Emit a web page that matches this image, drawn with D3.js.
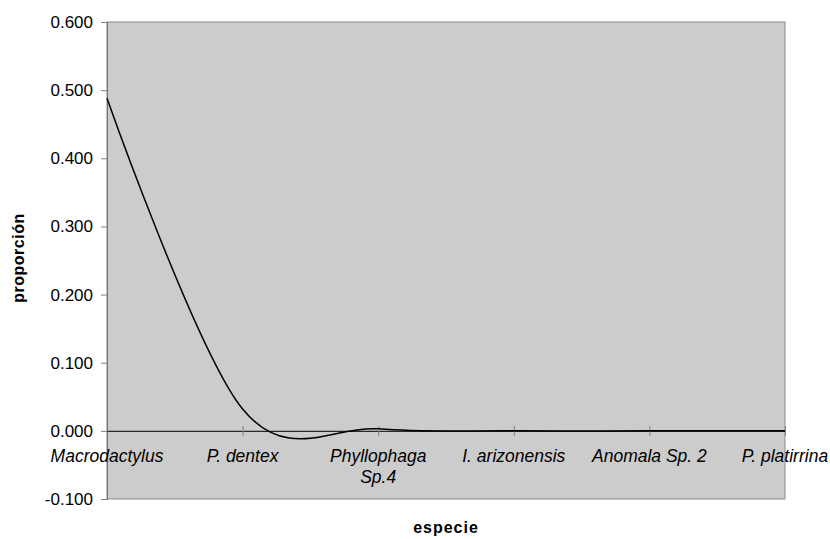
<!DOCTYPE html>
<html>
<head>
<meta charset="utf-8">
<script src="https://cdn.jsdelivr.net/npm/d3@7/dist/d3.min.js"></script>
<style>
  html, body { margin: 0; padding: 0; background: #ffffff; }
  svg { display: block; }
  text { font-family: "Liberation Sans", Arial, sans-serif; fill: #000; }
</style>
</head>
<body>
<svg id="chart" width="830" height="539"></svg>
<script>
const categories = ["Macrodactylus", "P. dentex", "Phyllophaga Sp.4", "I. arizonensis", "Anomala Sp. 2", "P. platirrina"];
const categoryLines = [["Macrodactylus"], ["P. dentex"], ["Phyllophaga", "Sp.4"], ["I. arizonensis"], ["Anomala Sp. 2"], ["P. platirrina"]];
const values = [0.488, 0.032, 0.003, 0.000, 0.000, 0.000];
const yTicks = [-0.1, 0.0, 0.1, 0.2, 0.3, 0.4, 0.5, 0.6];

const svg = d3.select("#chart");
const plot = { left: 107, right: 785, top: 22, bottom: 499 };

const x = d3.scalePoint().domain(categories).range([plot.left, plot.right]);
const y = d3.scaleLinear().domain([-0.1, 0.6]).range([plot.bottom, plot.top]);

// plot area
svg.append("rect")
  .attr("x", plot.left).attr("y", plot.top)
  .attr("width", plot.right - plot.left).attr("height", plot.bottom - plot.top)
  .attr("fill", "#cccccc").attr("stroke", "#8c8c8c").attr("stroke-width", 1);

// y axis
const fmt = d3.format(".3f");
const yAxis = d3.axisLeft(y).tickValues(yTicks)
  .tickFormat(d => fmt(d).replace("\u2212", "-"))
  .tickSize(6).tickPadding(8);
const gy = svg.append("g").attr("transform", `translate(${plot.left},0)`).call(yAxis);
gy.select(".domain").attr("stroke", "#707070");
gy.selectAll(".tick line").attr("stroke", "#808080");
gy.selectAll(".tick text").attr("font-size", "17px").attr("font-family", "'Liberation Sans', Arial, sans-serif").attr("fill", "#000");

// x axis at y = 0
const xAxis = d3.axisBottom(x).tickSize(0).tickFormat("");
const gx = svg.append("g").attr("transform", `translate(0,${y(0)})`).call(xAxis);
gx.select(".domain").attr("stroke", "#2a2a2a").attr("stroke-width", 1.2);
gx.selectAll(".tick").filter((d, i) => i > 0).append("line")
  .attr("y1", -5).attr("y2", 5).attr("stroke", "#808080");

// x labels
const lbl = svg.append("g");
categories.forEach((c, i) => {
  const t = lbl.append("text")
    .attr("x", x(c)).attr("y", 462)
    .attr("text-anchor", "middle")
    .attr("font-size", "17.5px").attr("font-style", "italic");
  categoryLines[i].forEach((ln, j) => {
    t.append("tspan").attr("x", x(c)).attr("dy", j === 0 ? 0 : 21).text(ln);
  });
});

// line
const line = d3.line()
  .x((d, i) => x(categories[i]))
  .y(d => y(d))
  .curve(d3.curveCardinal.tension(0));
svg.append("path").datum(values)
  .attr("d", line)
  .attr("fill", "none").attr("stroke", "#000").attr("stroke-width", 1.5);

// axis titles
svg.append("text")
  .attr("transform", "translate(24,258) rotate(-90)")
  .attr("text-anchor", "middle")
  .attr("font-size", "16px").attr("font-weight", "bold").attr("letter-spacing", "0.5px")
  .text("proporción");
svg.append("text")
  .attr("x", 446).attr("y", 533)
  .attr("text-anchor", "middle")
  .attr("font-size", "16px").attr("font-weight", "bold").attr("letter-spacing", "1px")
  .text("especie");
</script>
</body>
</html>
